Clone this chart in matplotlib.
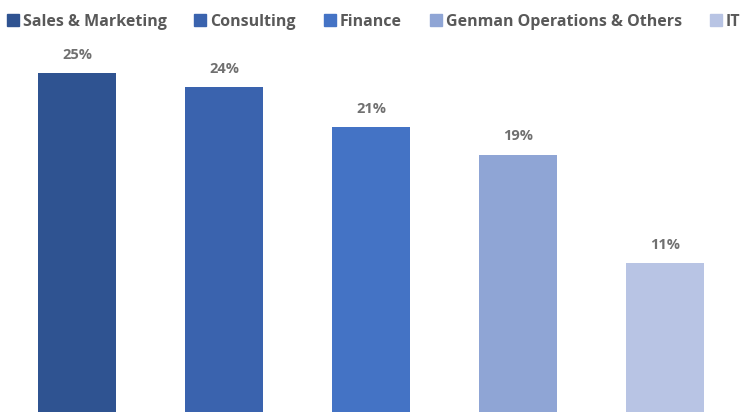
import matplotlib
matplotlib.use("Agg")
import matplotlib.pyplot as plt

categories = ["Sales & Marketing", "Consulting", "Finance",
              "Genman Operations & Others", "IT"]
shares = [25, 24, 21, 19, 11]
colors = ["#2F5391", "#3A63AE", "#4473C5", "#8FA5D5", "#B8C4E4"]

plt.rcParams["font.family"] = ["Open Sans", "DejaVu Sans"]
grey = "#595959"

fig = plt.figure(figsize=(7.42, 4.12), dpi=100)
ax = fig.add_axes([0, 0, 1, 1])

x = range(len(categories))
bars = ax.bar(x, shares, width=0.53, color=colors, label=categories)
for b, v in zip(bars, shares):
    ax.annotate(f"{v}%", (b.get_x() + b.get_width() / 2, v),
                xytext=(0, 8), textcoords="offset points",
                ha="center", va="bottom", fontsize=10.5,
                fontweight="bold", color="#707070")

ax.set_xlim(-0.524, 4.524)
ax.set_ylim(0, 30.4)
ax.axis("off")

handles = [plt.Rectangle((0, 0), 1, 1, color=c) for c in colors]
ax.legend(handles, categories, ncol=5, loc="upper left",
          bbox_to_anchor=(-0.004, 0.99), frameon=False,
          handlelength=0.75, handleheight=0.75, handletextpad=0.25,
          columnspacing=1.75, borderaxespad=0.2,
          prop={"size": 11.5, "weight": "bold"}, labelcolor=grey)

fig.savefig("out.png", dpi=100)
